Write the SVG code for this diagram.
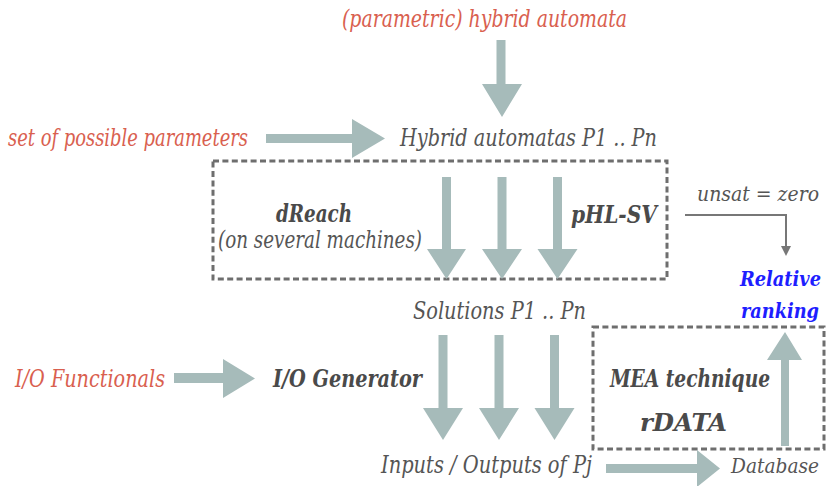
<svg xmlns="http://www.w3.org/2000/svg" width="827" height="486" viewBox="0 0 827 486">
<defs>
<style>
text{font-style:italic;font-size:24px;fill:#555555}
.b{font-weight:bold;fill:#4a4a4a}
.red{fill:#d9604f}
.blue{fill:#1e1eff;font-weight:bold}
.s{font-size:21px}
.arr{fill:#a6bbba}
.box{fill:none;stroke:#6e6e6e;stroke-width:3;stroke-dasharray:6 3.4}
.thin{fill:none;stroke:#777777;stroke-width:2}
</style>
</defs>
<rect width="827" height="486" fill="#ffffff"/>

<g id="box-solvers"><rect class="box" x="213" y="161" width="454" height="118"/></g>
<g id="box-mea"><rect class="box" x="593" y="327" width="231" height="122"/></g>

<g id="connectors">
<polygon class="arr" points="496.5,40 505.5,40 505.5,84 522,84 502,117 482,84 496.5,84"/>
<polygon class="arr" points="266,134 352,134 352,119 385,138.5 352,158 352,143 266,143"/>
<polygon class="arr" points="442,177 451,177 451,249 466,249 446.5,279 427,249 442,249"/>
<polygon class="arr" points="497.5,177 506.5,177 506.5,249 522,249 502,279 482,249 497.5,249"/>
<polygon class="arr" points="553,177 562,177 562,249 577.5,249 557.5,279 537.5,249 553,249"/>
<polygon class="arr" points="438.5,335 447.5,335 447.5,408 463,408 443,440 423,408 438.5,408"/>
<polygon class="arr" points="494.5,335 503.5,335 503.5,408 519,408 499,440 479,408 494.5,408"/>
<polygon class="arr" points="550,335 559,335 559,408 574.5,408 554.5,440 534.5,408 550,408"/>
<polygon class="arr" points="174,373 223,373 223,359 255,378.5 223,398 223,383 174,383"/>
<polygon class="arr" points="781,446 781,360 767,360 785,332 802,360 789,360 789,446"/>
<polygon class="arr" points="606,464 697,464 697,450 720,468.5 697,487 697,473 606,473"/>
<path d="M685,215 H786 V247" class="thin"/>
<polygon points="781,246 791,246 786,256" fill="#777777"/>
</g>

<g font-family="'DejaVu Serif Condensed', 'DejaVu Serif', serif">
<g id="n-hybrid-automata"><text class="red" x="342" y="27" textLength="285" lengthAdjust="spacingAndGlyphs">(parametric) hybrid automata</text></g>
<g id="n-params"><text class="red" x="8" y="146" textLength="240" lengthAdjust="spacingAndGlyphs">set of possible parameters</text></g>
<g id="n-automatas"><text x="400" y="146" textLength="257" lengthAdjust="spacingAndGlyphs">Hybrid automatas P1 .. Pn</text></g>
<g id="n-dreach"><text class="b" x="276" y="222" textLength="76" lengthAdjust="spacingAndGlyphs">dReach</text><text x="218" y="248" textLength="204" lengthAdjust="spacingAndGlyphs">(on several machines)</text></g>
<g id="n-phlsv"><text class="b" x="571" y="223" textLength="86" lengthAdjust="spacingAndGlyphs">pHL-SV</text></g>
<g id="n-unsat"><text class="s" x="697" y="201" textLength="122" lengthAdjust="spacingAndGlyphs">unsat = zero</text></g>
<g id="n-ranking"><text class="blue s" x="740" y="286" textLength="81" lengthAdjust="spacingAndGlyphs">Relative</text><text class="blue s" x="741" y="318" textLength="78" lengthAdjust="spacingAndGlyphs">ranking</text></g>
<g id="n-solutions"><text x="413" y="319" textLength="173" lengthAdjust="spacingAndGlyphs">Solutions P1 .. Pn</text></g>
<g id="n-iofunc"><text class="red" x="15" y="387" textLength="150" lengthAdjust="spacingAndGlyphs">I/O Functionals</text></g>
<g id="n-iogen"><text class="b" x="273" y="387" textLength="149" lengthAdjust="spacingAndGlyphs">I/O Generator</text></g>
<g id="n-mea"><text class="b" x="610" y="387" textLength="160" lengthAdjust="spacingAndGlyphs">MEA technique</text><text class="b" x="640" y="431" textLength="87" lengthAdjust="spacingAndGlyphs">rDATA</text></g>
<g id="n-io"><text x="381" y="473" textLength="211" lengthAdjust="spacingAndGlyphs">Inputs / Outputs of Pj</text></g>
<g id="n-database"><text class="s" x="731" y="473" textLength="88" lengthAdjust="spacingAndGlyphs">Database</text></g>
</g>
</svg>
